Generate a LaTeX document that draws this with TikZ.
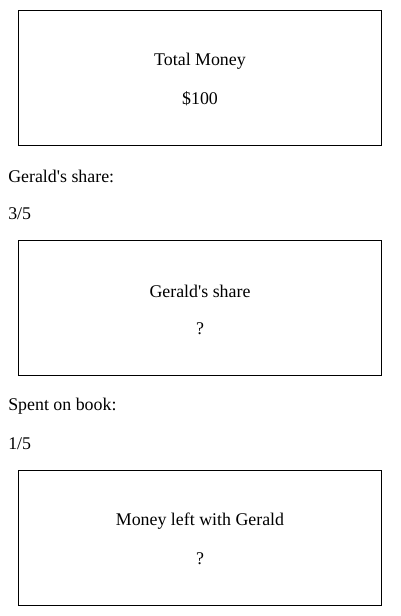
\documentclass[tikz,border=0pt]{standalone}
\usepackage{fontspec}
\setmainfont{Liberation Serif}
\newfontfamily\plainf{Liberation Serif}
\begin{document}
\begin{tikzpicture}[x=0.75pt,y=-0.75pt,
  boxst/.style={draw=black,line width=0.75pt},
  txt/.style={inner sep=0pt,font=\plainf\fontsize{13.4}{15}\selectfont},
  lbl/.style={txt,anchor=west}]
\useasboundingbox (0,0) rectangle (400,616);
\draw[boxst] (18.5,10.5) rectangle (381.5,145.5);
\draw[boxst] (18.5,240.5) rectangle (381.5,375.5);
\draw[boxst] (18.5,470.5) rectangle (381.5,605.5);
\node[txt] (t1) at (200,61) {Total Money};
\node[txt] (t2) at (200,99) {\$100};
\node[lbl] (l1) at (8,176) {Gerald's share:};
\node[lbl] (l2) at (8,214) {3/5};
\node[txt] (t3) at (200,291) {Gerald's share};
\node[txt] (t4) at (200,329) {?};
\node[lbl] (l3) at (8,406) {Spent on book:};
\node[lbl] (l4) at (8,444) {1/5};
\node[txt] (t5) at (200,521) {Money left with Gerald};
\node[txt] (t6) at (200,559) {?};
\end{tikzpicture}
\end{document}
